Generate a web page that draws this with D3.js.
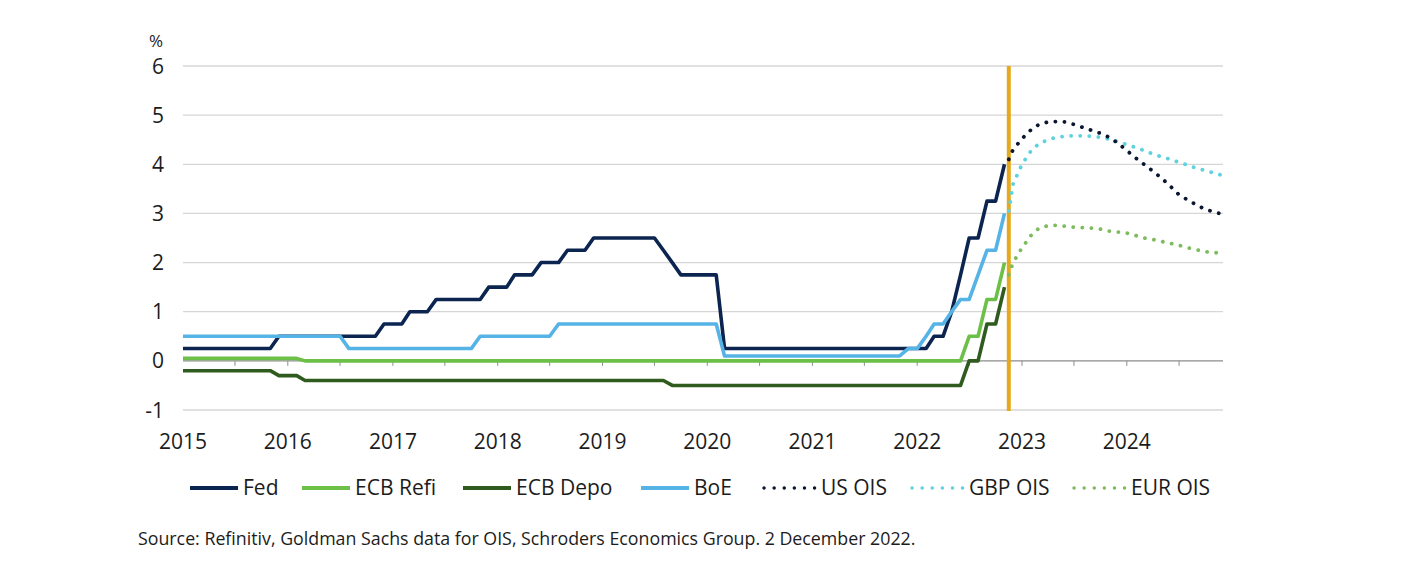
<!DOCTYPE html>
<html>
<head>
<meta charset="utf-8">
<script src="https://cdn.jsdelivr.net/npm/d3@7"></script>
<style>
  body { margin: 0; background: #fff; }
  text { font-family: "Open Sans", sans-serif; fill: #1c1c1c; }
</style>
</head>
<body>
<svg id="chart" width="1407" height="576"></svg>
<script>
// policy rates, monthly change points [month, %]
var fed = [["2015-01",0.25],["2015-11",0.25],["2015-12",0.5],["2016-11",0.5],["2016-12",0.75],
  ["2017-02",0.75],["2017-03",1.0],["2017-05",1.0],["2017-06",1.25],["2017-11",1.25],["2017-12",1.5],
  ["2018-02",1.5],["2018-03",1.75],["2018-05",1.75],["2018-06",2.0],["2018-08",2.0],["2018-09",2.25],
  ["2018-11",2.25],["2018-12",2.5],["2019-07",2.5],["2019-08",2.25],["2019-09",2.0],["2019-10",1.75],
  ["2020-02",1.75],["2020-03",0.25],["2022-02",0.25],["2022-03",0.5],["2022-04",0.5],["2022-05",1.0],
  ["2022-06",1.75],["2022-07",2.5],["2022-08",2.5],["2022-09",3.25],["2022-10",3.25],["2022-11",4.0]];
var ecbRefi = [["2015-01",0.05],["2016-02",0.05],["2016-03",0],["2022-06",0],["2022-07",0.5],
  ["2022-08",0.5],["2022-09",1.25],["2022-10",1.25],["2022-11",2.0]];
var ecbDepo = [["2015-01",-0.2],["2015-11",-0.2],["2015-12",-0.3],["2016-02",-0.3],["2016-03",-0.4],
  ["2019-08",-0.4],["2019-09",-0.5],["2022-06",-0.5],["2022-07",0],["2022-08",0],["2022-09",0.75],
  ["2022-10",0.75],["2022-11",1.5]];
var boe = [["2015-01",0.5],["2016-07",0.5],["2016-08",0.25],["2017-10",0.25],["2017-11",0.5],
  ["2018-07",0.5],["2018-08",0.75],["2020-02",0.75],["2020-03",0.1],["2021-11",0.1],["2021-12",0.25],
  ["2022-01",0.25],["2022-02",0.5],["2022-03",0.75],["2022-04",0.75],["2022-05",1.0],["2022-06",1.25],
  ["2022-07",1.25],["2022-08",1.75],["2022-09",2.25],["2022-10",2.25],["2022-11",3.0]];

// OIS forward curves, first point is the date of the vertical line
var oisMonths = ["2022-11-16","2022-12","2023-01","2023-02","2023-03","2023-04","2023-05","2023-06",
  "2023-07","2023-08","2023-09","2023-10","2023-11","2023-12","2024-01","2024-02","2024-03","2024-04",
  "2024-05","2024-06","2024-07","2024-08","2024-09","2024-10","2024-11","2024-12"];
var usOis  = [4.1,4.3,4.52,4.7,4.81,4.86,4.87,4.86,4.81,4.75,4.69,4.63,4.55,4.43,4.28,4.13,4.0,3.86,
  3.72,3.55,3.38,3.27,3.17,3.08,3.03,2.98];
var gbpOis = [3.05,3.6,4.0,4.27,4.42,4.5,4.55,4.57,4.58,4.58,4.57,4.55,4.51,4.46,4.4,4.34,4.28,4.21,
  4.15,4.1,4.04,3.98,3.92,3.87,3.82,3.77];
var eurOis = [1.75,2.0,2.3,2.55,2.7,2.75,2.76,2.74,2.72,2.71,2.7,2.68,2.64,2.62,2.6,2.55,2.5,2.47,
  2.43,2.39,2.35,2.3,2.26,2.22,2.2,2.2];

var nowLine = "2022-11-16";
var yTicks = [-1,0,1,2,3,4,5,6];
var yearLabels = ["2015","2016","2017","2018","2019","2020","2021","2022","2023","2024"];
var legendNames = ["Fed","ECB Refi","ECB Depo","BoE","US OIS","GBP OIS","EUR OIS"];
var legendX = [190,302,463,641,762,910,1072];

var colors = {
  fed: "#0c2550", refi: "#6cbf47", depo: "#2f5b1f", boe: "#56b3e6",
  us: "#0b1730", gbp: "#5ed2df", eur: "#7dbb5c", now: "#e6a91c"
};

var parse = function(s) {
  return s.length > 7 ? d3.timeParse("%Y-%m-%d")(s) : d3.timeParse("%Y-%m")(s);
};

var svg = d3.select("#chart");
var x = d3.scaleTime().domain([parse("2015-01"), parse("2024-12")]).range([183, 1223]);
var y = d3.scaleLinear().domain([-1, 6]).range([410, 66]);

var txt = function(g, px, py, s, size, anchor) {
  return g.append("text")
    .attr("x", px).attr("y", py)
    .attr("font-size", size)
    .attr("text-anchor", anchor || "start")
    .text(s);
};

// grid
svg.append("g").selectAll("line").data(yTicks).enter().append("line")
  .attr("x1", 183).attr("x2", 1223)
  .attr("y1", function(d) { return y(d); }).attr("y2", function(d) { return y(d); })
  .attr("stroke", function(d) { return d == 0 ? "#8c8c8c" : "#d6d6d6"; })
  .attr("stroke-width", 1.3);

// half-year ticks on the zero line
var ticks = d3.timeMonth.every(6).range(parse("2015-07"), parse("2024-12"));
svg.append("g").selectAll("line").data(ticks).enter().append("line")
  .attr("x1", function(d) { return x(d); }).attr("x2", function(d) { return x(d); })
  .attr("y1", y(0)).attr("y2", y(0) + 5)
  .attr("stroke", "#8c8c8c").attr("stroke-width", 1);

var yl = svg.append("g");
yTicks.forEach(function(v) { txt(yl, 164, y(v) + 7.5, String(v), 21, "end"); });
txt(yl, 149, 47, "%", 17, "start");

var xl = svg.append("g");
yearLabels.forEach(function(s) { txt(xl, x(parse(s + "-01")), 449, s, 21, "middle"); });

var line = d3.line()
  .x(function(d) { return x(parse(d[0])); })
  .y(function(d) { return y(d[1]); });

var solid = function(data, col) {
  svg.append("path").datum(data).attr("d", line)
    .attr("fill", "none").attr("stroke", col).attr("stroke-width", 3.6)
    .attr("stroke-linejoin", "round");
};
solid(fed, colors.fed);
solid(ecbDepo, colors.depo);
solid(ecbRefi, colors.refi);
solid(boe, colors.boe);

svg.append("line")
  .attr("x1", x(parse(nowLine))).attr("x2", x(parse(nowLine)))
  .attr("y1", 66).attr("y2", 411)
  .attr("stroke", colors.now).attr("stroke-width", 4);

var dotted = function(vals, col) {
  var data = oisMonths.map(function(m, i) { return [m, vals[i]]; });
  svg.append("path").datum(data).attr("d", line)
    .attr("fill", "none").attr("stroke", col).attr("stroke-width", 3.8)
    .attr("stroke-linecap", "round").attr("stroke-dasharray", "0.1 9");
};
dotted(eurOis, colors.eur);
dotted(gbpOis, colors.gbp);
dotted(usOis, colors.us);

// legend
var lg = svg.append("g");
var legendCols = [colors.fed, colors.refi, colors.depo, colors.boe, colors.us, colors.gbp, colors.eur];
legendNames.forEach(function(n, i) {
  var x0 = legendX[i];
  var isDot = i >= 4;
  lg.append("line").attr("x1", x0 + (isDot ? 2 : 0)).attr("x2", x0 + (isDot ? 54 : 48))
    .attr("y1", 488).attr("y2", 488)
    .attr("stroke", legendCols[i]).attr("stroke-width", isDot ? 3.4 : 4)
    .attr("stroke-linecap", isDot ? "round" : "butt")
    .attr("stroke-dasharray", isDot ? "0.1 10" : null);
  txt(lg, x0 + (isDot ? 59 : 53), 495, n, 21, "start");
});

txt(svg, 138, 545, "Source: Refinitiv, Goldman Sachs data for OIS, Schroders Economics Group. 2 December 2022.", 17.8, "start");
</script>
</body>
</html>
